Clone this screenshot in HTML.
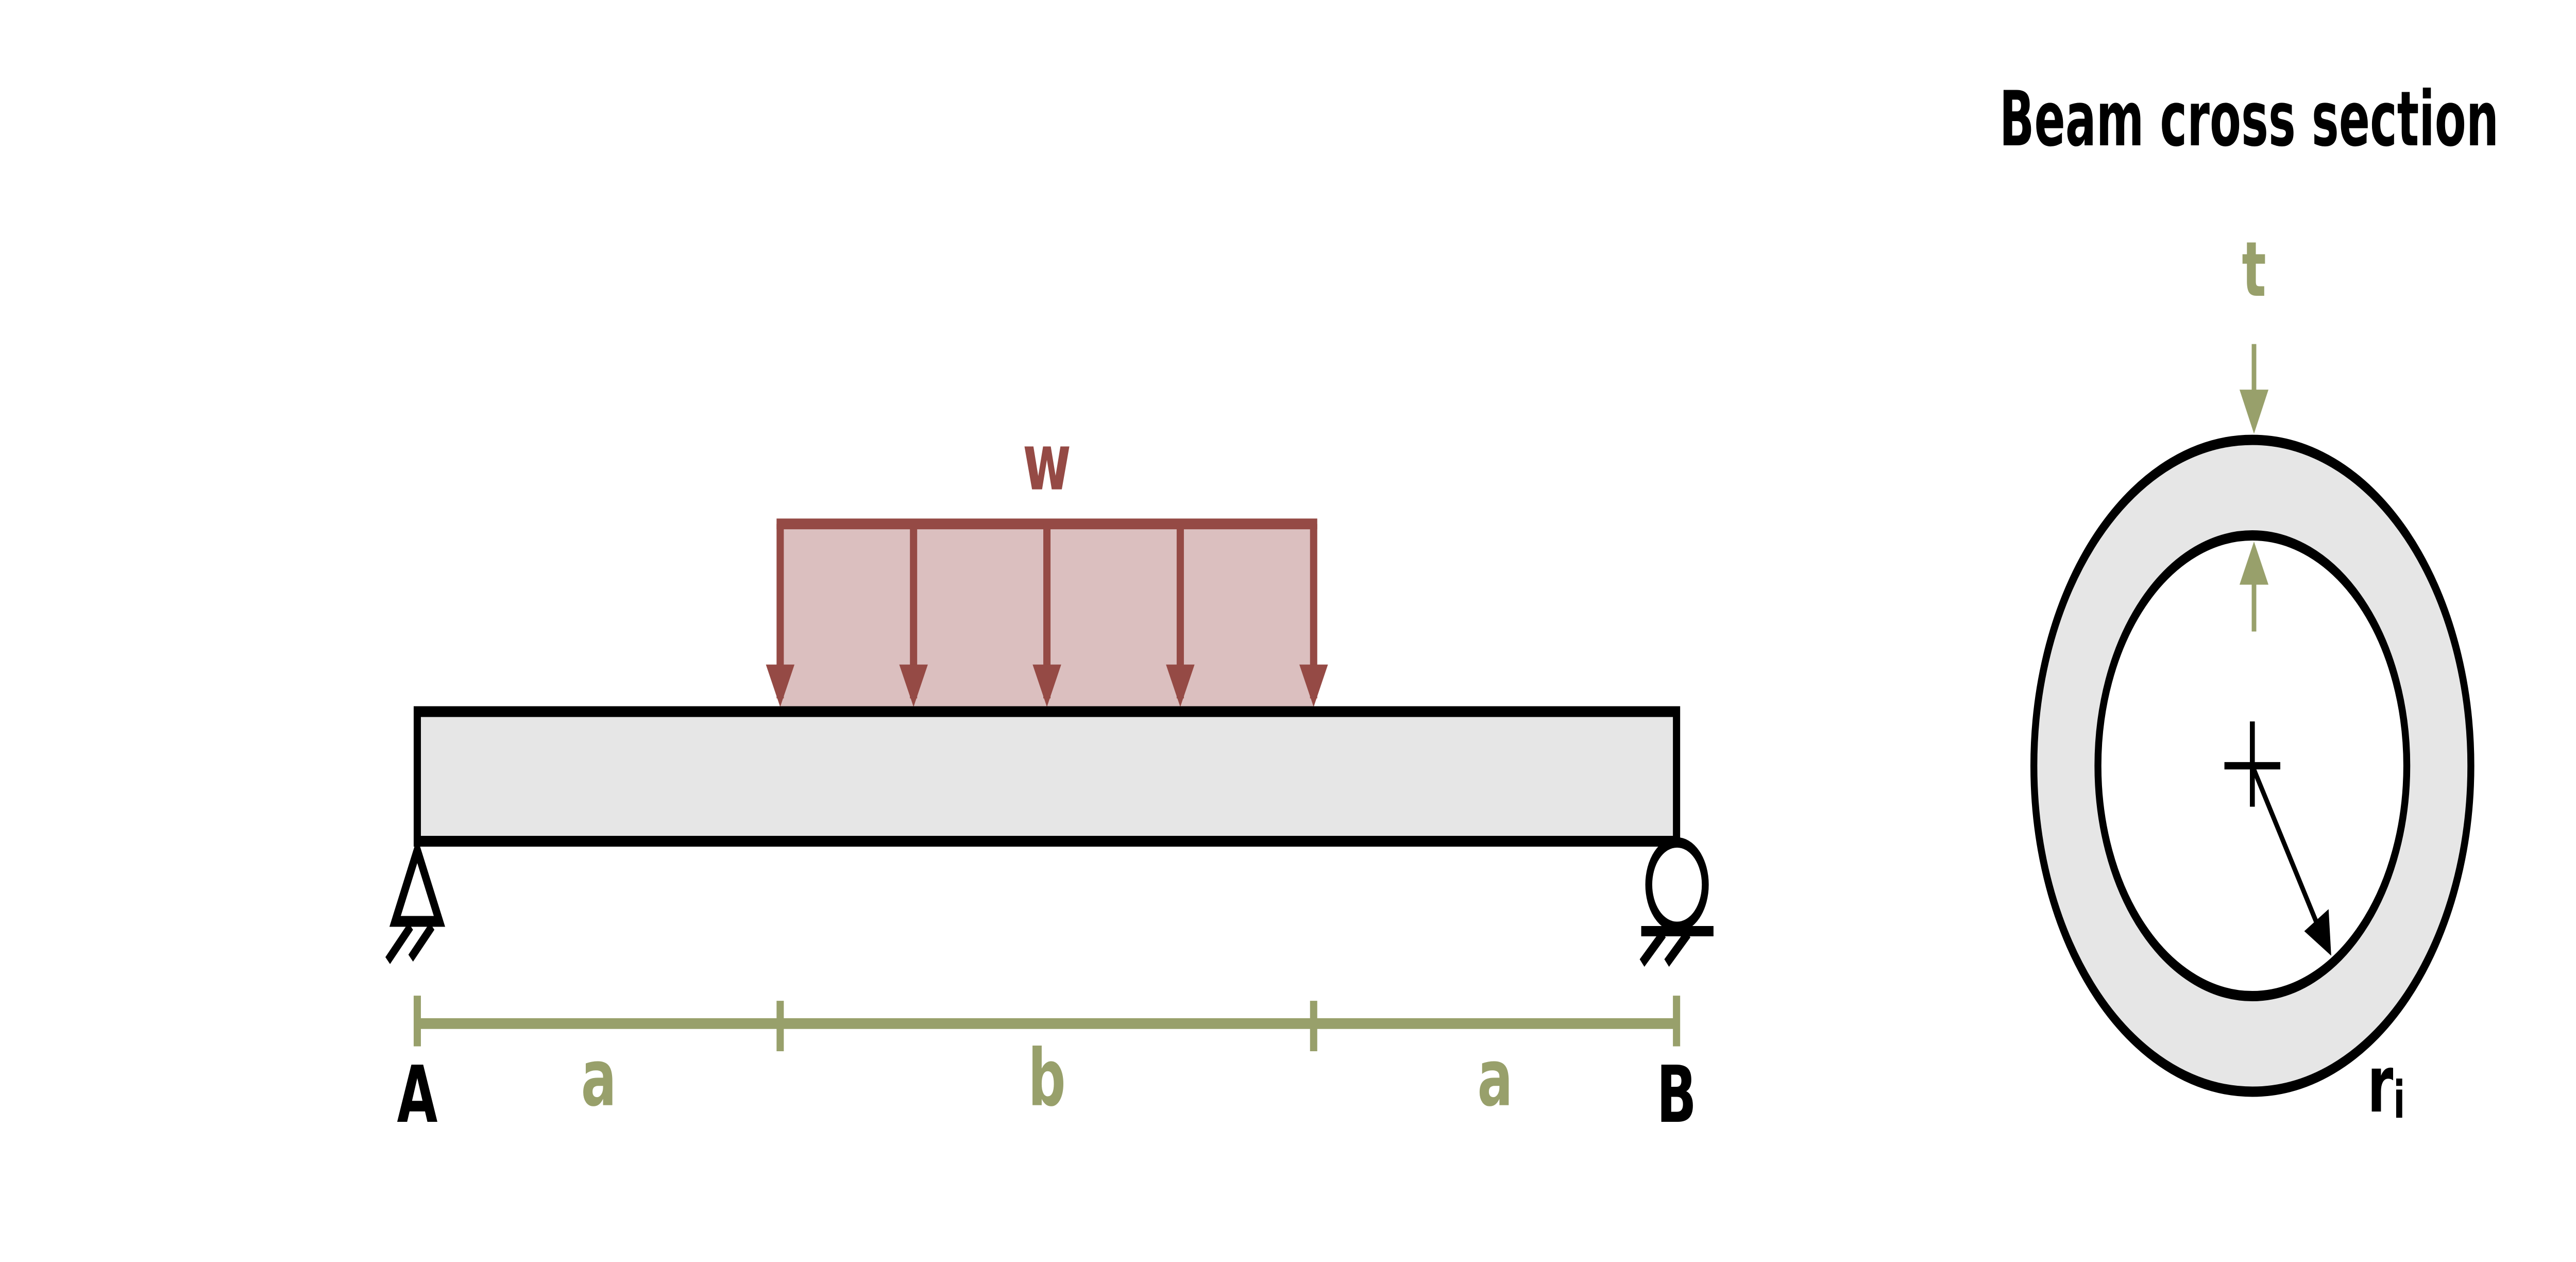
<!DOCTYPE html>
<html><head><meta charset="utf-8"><style>
html,body{margin:0;padding:0;background:#fff;width:100%;height:100%;overflow:hidden;}
svg{display:block;width:100vw;height:100vh;}
text{font-family:"DejaVu Sans","Liberation Sans",sans-serif;font-weight:bold;}
</style></head><body>
<svg id="fig" viewBox="0 0 1568 515" preserveAspectRatio="none" xmlns="http://www.w3.org/2000/svg">
<g id="beamg"></g>
<g id="secg"></g>
</svg>
<script>
// span lengths (relative): a, b, a
const spans = [1, 1.47, 1];
const spanLabels = ['a', 'b', 'a'];
const supportLabels = ['A', 'B'];
const loadArrowCount = [5];
const loadLabel = ['w'];

const NS = 'http://www.w3.org/2000/svg';
const X0 = 254, X1 = 1020.5;
const total = spans.reduce((s, v) => s + v, 0);
function xs(u) { return X0 + (X1 - X0) * u / total; }
function mk(tag, attrs, parent) {
  const e = document.createElementNS(NS, tag);
  for (const k in attrs) e.setAttribute(k, attrs[k]);
  parent.appendChild(e);
  return e;
}
const G = document.getElementById('beamg');
const S = document.getElementById('secg');
const RED = '#954a45', PINK = '#dbbfbf', GREEN = '#98a06b';
const SW = 4.4;

// load region
const lx0 = xs(spans[0]), lx1 = xs(spans[0] + spans[1]);
const ly0 = 213.8, ly1 = 290;
let el = mk('rect', {x: lx0, y: ly0, width: lx1 - lx0, height: ly1 - ly0, fill: PINK}, G);


el = mk('line', {x1: lx0 - SW / 2, y1: ly0, x2: lx1 + SW / 2, y2: ly0, stroke: RED, 'stroke-width': SW}, G);


const n = loadArrowCount[0];
for (let i = 0; i < n; i++) {
  const x = lx0 + (lx1 - lx0) * i / (n - 1);
  const a = mk('g', {}, G);
  
  
  mk('line', {x1: x, y1: ly0, x2: x, y2: 285, stroke: RED, 'stroke-width': SW}, a);
  mk('polygon', {points: `${x - 8.7},271.2 ${x + 8.7},271.2 ${x},288.5`, fill: RED}, a);
}
el = mk('text', {x: xs(spans[0] + spans[1] / 2), y: 199.7, 'text-anchor': 'middle', 'font-size': 32, fill: RED}, G);
el.textContent = loadLabel[0];



// beam
el = mk('rect', {x: X0, y: 290.4, width: X1 - X0, height: 52.9, fill: '#e6e6e6', stroke: '#000', 'stroke-width': SW}, G);



// pin support A
const supA = mk('g', {}, G);


mk('polygon', {points: `${X0},347 ${X0 - 13.5},376 ${X0 + 13.5},376`, fill: '#fff', stroke: '#000', 'stroke-width': SW, 'stroke-linejoin': 'miter'}, supA);
mk('line', {x1: X0 - 4, y1: 378, x2: X0 - 18, y2: 392, stroke: '#000', 'stroke-width': 4}, supA);
mk('line', {x1: X0 + 9, y1: 378, x2: X0 - 4, y2: 391, stroke: '#000', 'stroke-width': 4}, supA);

// roller support B
const supB = mk('g', {}, G);


mk('circle', {cx: X1 + 0.3, cy: 361, r: 17.2, fill: '#fff', stroke: '#000', 'stroke-width': 4.2}, supB);
mk('line', {x1: 999, y1: 380, x2: 1043, y2: 380, stroke: '#000', 'stroke-width': 4.2}, supB);
mk('line', {x1: 1012.5, y1: 381, x2: 999.5, y2: 393, stroke: '#000', 'stroke-width': 4.2}, supB);
mk('line', {x1: 1027.5, y1: 381, x2: 1014.5, y2: 393, stroke: '#000', 'stroke-width': 4.2}, supB);

// dimension line
const dim = mk('g', {}, G);


mk('line', {x1: X0, y1: 417.7, x2: X1, y2: 417.7, stroke: GREEN, 'stroke-width': SW}, dim);
let acc = 0;
const ticks = [0];
spans.forEach(v => { acc += v; ticks.push(acc); });
ticks.forEach((t, i) => {
  const x = xs(t);
  const end = (i === 0 || i === ticks.length - 1);
  el = mk('line', {x1: x, y1: end ? 406.3 : 408.4, x2: x, y2: end ? 427 : 429, stroke: GREEN, 'stroke-width': SW}, dim);
  
  
});
acc = 0;
spans.forEach((v, i) => {
  el = mk('text', {x: xs(acc + v / 2), y: 451, 'text-anchor': 'middle', 'font-size': 32, fill: GREEN}, G);
  el.textContent = spanLabels[i];
  
  
  acc += v;
});
supportLabels.forEach((s, i) => {
  el = mk('text', {x: i === 0 ? X0 : X1, y: 457.8, 'text-anchor': 'middle', 'font-size': 32, fill: '#000'}, G);
  el.textContent = s;
  
  
});

// cross section
const cx = 1371, cy = 312.5, ro = 133, ri = 94;
el = mk('text', {x: 1369, y: 59.3, 'text-anchor': 'middle', 'font-size': 31, fill: '#000', textLength: 304, lengthAdjust: 'spacingAndGlyphs'}, S);
el.textContent = 'Beam cross section';


el = mk('circle', {cx: cx, cy: cy, r: ro, fill: '#e6e6e6', stroke: '#000', 'stroke-width': 4.2}, S);


el = mk('circle', {cx: cx, cy: cy, r: ri, fill: '#fff', stroke: '#000', 'stroke-width': 4.2}, S);


const cross = mk('g', {}, S);


mk('line', {x1: cx - 17, y1: cy, x2: cx + 17, y2: cy, stroke: '#000', 'stroke-width': 3}, cross);
mk('line', {x1: cx, y1: 294.4, x2: cx, y2: 329.2, stroke: '#000', 'stroke-width': 3}, cross);
const rad = mk('g', {}, S);


mk('line', {x1: cx, y1: cy, x2: 1411, y2: 378, stroke: '#000', 'stroke-width': 2.6}, rad);
mk('polygon', {points: '1419,390 1402.6,380 1417.4,371', fill: '#000'}, rad);
el = mk('text', {x: 1441, y: 453.6, 'font-size': 32, fill: '#000'}, S);


el.textContent = 'r';
const sub = mk('tspan', {'font-size': 21, dy: 2.5}, el);
sub.textContent = 'i';
el = mk('text', {x: 1372, y: 120.7, 'text-anchor': 'middle', 'font-size': 31, fill: GREEN}, S);
el.textContent = 't';


const ta = mk('g', {}, S);


mk('line', {x1: 1372, y1: 140.4, x2: 1372, y2: 160, stroke: GREEN, 'stroke-width': 2.8}, ta);
mk('polygon', {points: '1363.2,159 1380.8,159 1372,177', fill: GREEN}, ta);
mk('line', {x1: 1372, y1: 237.5, x2: 1372, y2: 257.7, stroke: GREEN, 'stroke-width': 2.8}, ta);
mk('polygon', {points: '1363.2,238.6 1380.8,238.6 1372,221', fill: GREEN}, ta);
</script>
</body></html>
